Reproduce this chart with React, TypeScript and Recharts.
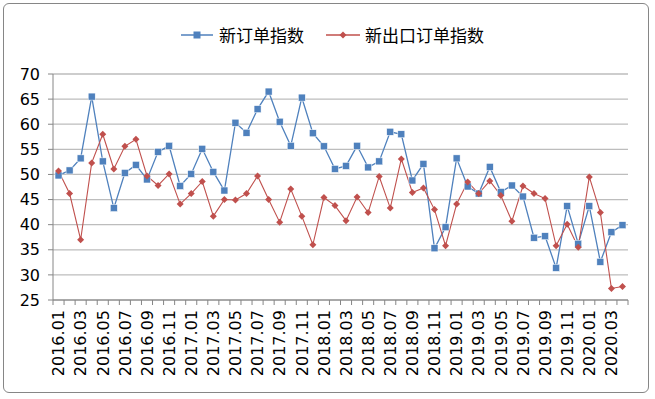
import React from "react";
import { LineChart, Line, XAxis, YAxis, CartesianGrid } from "recharts";

const months = [
  "2016.01", "2016.02", "2016.03", "2016.04", "2016.05", "2016.06", "2016.07", "2016.08", "2016.09", "2016.10", "2016.11", "2016.12",
  "2017.01", "2017.02", "2017.03", "2017.04", "2017.05", "2017.06", "2017.07", "2017.08", "2017.09", "2017.10", "2017.11", "2017.12",
  "2018.01", "2018.02", "2018.03", "2018.04", "2018.05", "2018.06", "2018.07", "2018.08", "2018.09", "2018.10", "2018.11", "2018.12",
  "2019.01", "2019.02", "2019.03", "2019.04", "2019.05", "2019.06", "2019.07", "2019.08", "2019.09", "2019.10", "2019.11", "2019.12",
  "2020.01", "2020.02", "2020.03", "2020.04",
];

const newOrders = [
  49.8, 50.8, 53.2, 65.5, 52.6, 43.3, 50.3, 51.9, 49.0, 54.5, 55.7, 47.7,
  50.1, 55.1, 50.5, 46.8, 60.3, 58.3, 63.0, 66.5, 60.5, 55.7, 65.3, 58.2,
  55.6, 51.1, 51.7, 55.7, 51.4, 52.6, 58.5, 58.0, 48.8, 52.1, 35.3, 39.5,
  53.2, 47.6, 46.2, 51.5, 46.5, 47.8, 45.6, 37.4, 37.7, 31.4, 43.7, 36.2,
  43.7, 32.6, 38.5, 39.9,
];

const newExportOrders = [
  50.7, 46.2, 37.0, 52.3, 58.0, 51.1, 55.6, 57.0, 49.7, 47.8, 50.1, 44.1,
  46.2, 48.6, 41.7, 45.0, 44.9, 46.2, 49.7, 45.0, 40.5, 47.1, 41.7, 36.0,
  45.4, 43.8, 40.8, 45.5, 42.4, 49.6, 43.3, 53.1, 46.4, 47.3, 43.0, 35.8,
  44.1, 48.5, 46.2, 48.7, 45.8, 40.7, 47.7, 46.2, 45.2, 35.8, 40.1, 35.5,
  49.5, 42.4, 27.3, 27.7,
];

const yTicks = [25, 30, 35, 40, 45, 50, 55, 60, 65, 70];

const data = months.map((m, i) => ({
  month: m,
  newOrders: newOrders[i],
  newExportOrders: newExportOrders[i],
}));

const BLUE = "#4F81BD";
const RED = "#C0504D";
const FONT = "'DejaVu Sans', sans-serif";
const HALF = 575 / months.length / 2;

const SquareDot = (props: any) => {
  const { cx, cy } = props;
  if (cx == null || cy == null) return null;
  return <rect x={cx - 3.5} y={cy - 3.5} width={7} height={7} fill={BLUE} stroke="#ffffff" strokeWidth={0.5} />;
};

const DiamondDot = (props: any) => {
  const { cx, cy } = props;
  if (cx == null || cy == null) return null;
  return (
    <path
      d={`M${cx},${cy - 3.5}L${cx + 3.5},${cy}L${cx},${cy + 3.5}L${cx - 3.5},${cy}Z`}
      fill={RED}
    />
  );
};

const MonthTick = (props: any) => {
  const { x, y, payload, index } = props;
  return (
    <g>
      {index === 0 && <line x1={x - HALF} y1={y} x2={x - HALF} y2={y + 5} stroke="#868686" />}
      <line x1={x + HALF} y1={y} x2={x + HALF} y2={y + 5} stroke="#868686" />
      {index % 2 === 0 && (
        <text
          x={x}
          y={y + 10}
          transform={`rotate(-90, ${x}, ${y + 10})`}
          textAnchor="end"
          dy="0.36em"
          fontSize={16}
          fontFamily={FONT}
          fill="#000"
        >
          {payload.value}
        </text>
      )}
    </g>
  );
};

const Legend = () => (
  <div
    style={{
      position: "absolute",
      top: 22,
      left: 0,
      width: 655,
      display: "flex",
      justifyContent: "center",
      alignItems: "center",
      fontFamily: "'Noto Sans CJK SC', sans-serif",
      fontSize: 17,
      color: "#000",
      paddingLeft: 10,
      boxSizing: "border-box",
    }}
  >
    <svg width={32} height={10} style={{ marginRight: 6 }}>
      <line x1={0} y1={5} x2={32} y2={5} stroke={BLUE} strokeWidth={1.5} />
      <rect x={12.5} y={1.5} width={7} height={7} fill={BLUE} />
    </svg>
    <span>新订单指数</span>
    <svg width={34} height={10} style={{ marginLeft: 22, marginRight: 5 }}>
      <line x1={0} y1={5} x2={34} y2={5} stroke={RED} strokeWidth={1.5} />
      <path d="M17,1.5L20.5,5L17,8.5L13.5,5Z" fill={RED} />
    </svg>
    <span>新出口订单指数</span>
  </div>
);

export default function App() {
  return (
    <div style={{ position: "absolute", left: 0, top: 0, width: 655, height: 399, background: "#fff" }}>
      <div
        style={{
          position: "absolute",
          left: 3,
          top: 3,
          width: 644,
          height: 388,
          border: "1px solid #868686",
          borderRadius: 6,
        }}
      />
      <Legend />
      <div style={{ position: "absolute", left: 0, top: 0 }}>
        <LineChart width={655} height={399} data={data} margin={{ top: 74, right: 27, left: 0, bottom: 9 }}>
          <CartesianGrid horizontal vertical={false} stroke="#BDBDBD" strokeWidth={1.3} />
          <XAxis
            dataKey="month"
            interval={0}
            height={90}
            padding={{ left: HALF, right: HALF }}
            tick={<MonthTick />}
            tickLine={false}
            tickSize={0}
            tickMargin={0}
            axisLine={{ stroke: "#868686" }}
          />
          <YAxis
            width={53}
            domain={[25, 70]}
            ticks={yTicks}
            interval={0}
            tickSize={5}
            tickMargin={8}
            tickLine={{ stroke: "#868686" }}
            axisLine={{ stroke: "#868686" }}
            tick={{ fontSize: 16, fontFamily: FONT, fill: "#000" }}
          />
          <Line
            type="linear"
            dataKey="newOrders"
            stroke={BLUE}
            strokeWidth={1.3}
            dot={<SquareDot />}
            activeDot={false}
            isAnimationActive={false}
          />
          <Line
            type="linear"
            dataKey="newExportOrders"
            stroke={RED}
            strokeWidth={1.1}
            dot={<DiamondDot />}
            activeDot={false}
            isAnimationActive={false}
          />
        </LineChart>
      </div>
    </div>
  );
}
